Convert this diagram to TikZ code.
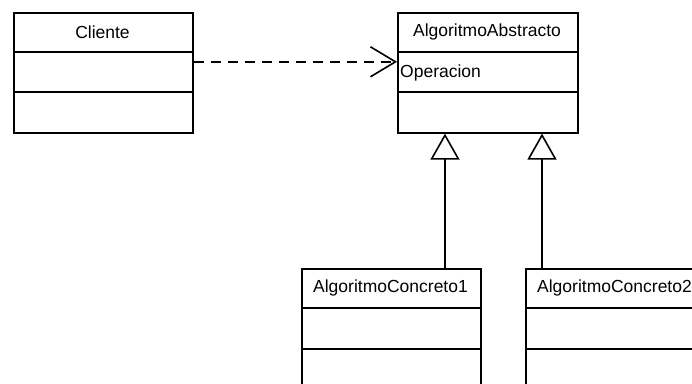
\documentclass[tikz,border=0pt]{standalone}
\usepackage{fontspec}
\setmainfont{Liberation Sans}
\usetikzlibrary{arrows.meta}
\begin{document}
\begin{tikzpicture}[x=1pt,y=-1pt,
  classbox/.style={draw=black, line width=1.6pt, fill=white, minimum width=179pt, minimum height=120pt, anchor=north west, inner sep=0pt},
  sep/.style={line width=1.6pt},
  txt/.style={font=\fontsize{17.5}{20}\selectfont, inner sep=0pt, text=black},
  dep/.style={line width=1.6pt, dash pattern=on 10pt off 7pt, -{Straight Barb[length=25pt,width=30pt,line width=1.6pt]}},
  gen/.style={line width=1.6pt, -{Triangle[open,length=26pt,width=29pt,line width=1.6pt]}}
]
\useasboundingbox (0,0) rectangle (692,383);
\clip (0,0) rectangle (692,383);
\fill[white] (0,0) rectangle (692,383);
% Cliente
\node[classbox] (cli) at (13,12) {};
\node[txt] (clit) at (102.5,32) {Cliente};
\draw[sep] ([yshift=-40pt]cli.north west) -- ([yshift=-40pt]cli.north east);
\draw[sep] ([yshift=-80pt]cli.north west) -- ([yshift=-80pt]cli.north east);
% AlgoritmoAbstracto
\node[classbox, minimum width=180pt] (abs) at (397,12) {};
\node[txt] (abst) at (487,32) {AlgoritmoAbstracto};
\node[txt, anchor=west] (op) at (400,73) {Operacion};
\draw[sep] ([yshift=-40pt]abs.north west) -- ([yshift=-40pt]abs.north east);
\draw[sep] ([yshift=-80pt]abs.north west) -- ([yshift=-80pt]abs.north east);
% Concretos
\node[classbox] (con1) at (301,268) {};
\node[txt] (con1t) at (390.5,288) {AlgoritmoConcreto1};
\draw[sep] ([yshift=-40pt]con1.north west) -- ([yshift=-40pt]con1.north east);
\draw[sep] ([yshift=-81pt]con1.north west) -- ([yshift=-81pt]con1.north east);
\node[classbox] (con2) at (525,268) {};
\node[txt] (con2t) at (614.5,288) {AlgoritmoConcreto2};
\draw[sep] ([yshift=-40pt]con2.north west) -- ([yshift=-40pt]con2.north east);
\draw[sep] ([yshift=-81pt]con2.north west) -- ([yshift=-81pt]con2.north east);
% connectors
\draw[dep] ([yshift=11pt]cli.east) -- ([yshift=11pt]abs.west);
\draw[gen] ([xshift=144pt]con1.north west) -- ([xshift=144pt]con1.north west |- abs.south);
\draw[gen] ([xshift=17pt]con2.north west) -- ([xshift=17pt]con2.north west |- abs.south);
\end{tikzpicture}
\end{document}
